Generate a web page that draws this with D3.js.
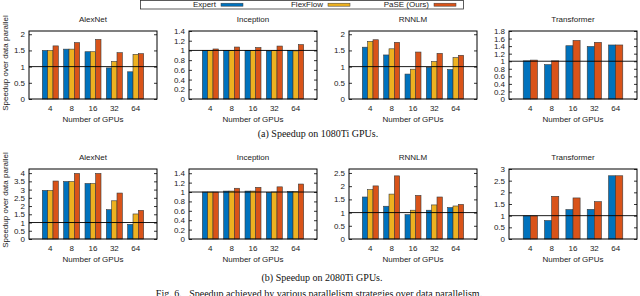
<!DOCTYPE html>
<html>
<head>
<meta charset="utf-8">
<script src="https://cdn.jsdelivr.net/npm/d3@7"></script>
<style>
  body { margin: 0; background: #fff; }
  svg text { font-family: "Liberation Sans", Arial, sans-serif; fill: #222; }
  .cap { font-family: "Liberation Serif", "Times New Roman", serif; fill: #111; }
</style>
</head>
<body>
<div id="chart-area"></div>
<script>
// SVG Size
var width = 640,
	height = 296;

// categories and series
var gpus = ["4", "8", "16", "32", "64"];
var seriesNames = ["Expert", "FlexFlow", "PaSE (Ours)"];
var seriesColors = ["#0072bd", "#edb120", "#d95319"];

// speedups, 1080Ti  (rows: Expert, FlexFlow, PaSE)
var alexnet1080 = [[1.50, 1.54, 1.46, 0.96, 0.84], [1.50, 1.54, 1.46, 1.16, 1.38], [1.64, 1.74, 1.84, 1.43, 1.40]];
var inception1080 = [[1.00, 1.00, 1.00, 0.99, 1.00], [1.00, 1.00, 1.00, 1.00, 0.99], [1.03, 1.07, 1.06, 1.09, 1.12]];
var rnnlm1080 = [[1.60, 1.36, 0.77, 0.98, 0.91], [1.78, 1.55, 0.92, 1.16, 1.28], [1.83, 1.75, 1.45, 1.41, 1.35]];
var transformer1080 = [[1.01, 0.91, 1.41, 1.39, 1.43], [1.03, 1.01, 1.55, 1.50, 1.43]];

// speedups, 2080Ti
var alexnet2080 = [[2.95, 3.49, 3.37, 1.78, 0.89], [2.95, 3.49, 3.37, 2.32, 1.52], [3.52, 3.98, 3.98, 2.79, 1.74]];
var inception2080 = [[1.00, 1.02, 1.02, 0.99, 1.01], [1.00, 1.02, 1.02, 1.00, 1.01], [1.00, 1.08, 1.10, 1.11, 1.17]];
var rnnlm2080 = [[1.59, 1.24, 0.92, 1.09, 1.19], [1.87, 1.70, 1.09, 1.29, 1.25], [2.01, 2.39, 1.65, 1.59, 1.31]];
var transformer2080 = [[0.99, 0.79, 1.26, 1.27, 2.71], [0.99, 1.83, 1.76, 1.60, 2.71]];

// y tick labels
var ticksHalf = [0, 0.5, 1, 1.5, 2];
var ticksFifth14 = [0, 0.2, 0.4, 0.6, 0.8, 1, 1.2, 1.4];
var ticksFifth18 = [0, 0.2, 0.4, 0.6, 0.8, 1, 1.2, 1.4, 1.6, 1.8];
var ticksHalf4 = [0, 0.5, 1, 1.5, 2, 2.5, 3, 3.5, 4];
var ticksHalf25 = [0, 0.5, 1, 1.5, 2, 2.5];
var ticksHalf3 = [0, 0.5, 1, 1.5, 2, 2.5, 3];

var panels = [
	{ row: 0, col: 0, title: "AlexNet", values: alexnet1080, keys: [0, 1, 2], ymax: 2.1, ticks: ticksHalf },
	{ row: 0, col: 1, title: "Inception", values: inception1080, keys: [0, 1, 2], ymax: 1.4, ticks: ticksFifth14 },
	{ row: 0, col: 2, title: "RNNLM", values: rnnlm1080, keys: [0, 1, 2], ymax: 2.1, ticks: ticksHalf },
	{ row: 0, col: 3, title: "Transformer", values: transformer1080, keys: [0, 2], ymax: 1.8, ticks: ticksFifth18 },
	{ row: 1, col: 0, title: "AlexNet", values: alexnet2080, keys: [0, 1, 2], ymax: 4.25, ticks: ticksHalf4 },
	{ row: 1, col: 1, title: "Inception", values: inception2080, keys: [0, 1, 2], ymax: 1.49, ticks: ticksFifth14 },
	{ row: 1, col: 2, title: "RNNLM", values: rnnlm2080, keys: [0, 1, 2], ymax: 2.65, ticks: ticksHalf25 },
	{ row: 1, col: 3, title: "Transformer", values: transformer2080, keys: [0, 2], ymax: 3, ticks: ticksHalf3 }
];

// frame geometry
var frameLeft = [29, 189, 349, 509];
var frameW = 128;
var frameTop = [31, 169];
var frameH = [68, 70];

var svg = d3.select("#chart-area")
		.append("svg")
		.attr("width", width)
		.attr("height", height);

panels.forEach(function(p){
	var x0 = frameLeft[p.col], y0 = frameTop[p.row], h = frameH[p.row];
	var k = p.keys.length;
	var inner = 1 / (k + 1);

	var g = svg.append("g").attr("transform", "translate(" + x0 + "," + y0 + ")");

	var xScale = d3.scaleBand()
			.domain(gpus)
			.range([0, frameW])
			.paddingInner(inner)
			.paddingOuter((1 + inner) / 2);

	var xSeries = d3.scaleBand()
			.domain(p.keys)
			.range([0, xScale.bandwidth()]);

	var yScale = d3.scaleLinear()
			.domain([0, p.ymax])
			.range([h, 0]);

	// bars
	p.keys.forEach(function(key, i){
		g.append("g").selectAll("rect")
			.data(p.values[i])
			.enter()
			.append("rect")
			.attr("x", function(d, j){ return xScale(gpus[j]) + xSeries(key); })
			.attr("y", function(d){ return yScale(d); })
			.attr("width", xSeries.bandwidth())
			.attr("height", function(d){ return h - yScale(d); })
			.attr("fill", seriesColors[key])
			.attr("stroke", "#3a3a3a")
			.attr("stroke-width", 0.6);
	});

	// reference line at 1
	g.append("line")
		.attr("x1", 0).attr("x2", frameW)
		.attr("y1", yScale(1)).attr("y2", yScale(1))
		.attr("stroke", "#000")
		.attr("stroke-width", 0.9);

	// axes
	var yAxis = d3.axisLeft(yScale).tickValues(p.ticks).tickSize(-3).tickPadding(4)
			.tickFormat(function(d){ return String(d); });
	var yAxisR = d3.axisRight(yScale).tickValues(p.ticks).tickSize(-3).tickFormat("");
	var xAxis = d3.axisBottom(xScale).tickSize(0).tickPadding(6);

	var ya = g.append("g").attr("class", "axis y-axis").call(yAxis);
	g.append("g").attr("transform", "translate(" + frameW + ",0)").call(yAxisR);
	var xa = g.append("g").attr("class", "axis x-axis")
			.attr("transform", "translate(0," + h + ")")
			.call(xAxis);

	[ya, xa].forEach(function(a){
		a.selectAll("text").style("font-size", "8px");
		a.select(".domain").remove();
	});
	g.selectAll(".tick line").attr("stroke", "#000").attr("stroke-width", 0.8);
	g.selectAll(".domain").remove();

	// frame
	g.append("rect")
		.attr("width", frameW).attr("height", h)
		.attr("fill", "none")
		.attr("stroke", "#000")
		.attr("stroke-width", 1);

	g.append("text").text(p.title)
		.attr("x", frameW / 2).attr("y", -12)
		.attr("text-anchor", "middle")
		.attr("dominant-baseline", "central")
		.style("font-size", "8px");

	g.append("text").text("Number of GPUs")
		.attr("x", frameW / 2).attr("y", h + 20)
		.attr("text-anchor", "middle")
		.attr("dominant-baseline", "central")
		.style("font-size", "8px");
});

// y axis names
[frameTop[0] + frameH[0] / 2 - 2, frameTop[1] + frameH[1] / 2 - 4].forEach(function(cy){
	svg.append("text").text("Speedup over data parallel")
		.attr("transform", "translate(5," + cy + ") rotate(-90)")
		.attr("text-anchor", "middle")
		.attr("dominant-baseline", "central")
		.style("font-size", "8px");
});

// legend
var legend = svg.append("g");
legend.append("rect")
	.attr("x", 140.5).attr("y", 0.5)
	.attr("width", 323).attr("height", 8.5)
	.attr("fill", "#fff")
	.attr("stroke", "#333")
	.attr("stroke-width", 0.8);
var legendTextX = [216, 323, 429];
seriesNames.forEach(function(name, i){
	legend.append("text").text(name)
		.attr("x", legendTextX[i]).attr("y", 4.8)
		.attr("text-anchor", "end")
		.attr("dominant-baseline", "central")
		.style("font-size", "8px");
	legend.append("rect")
		.attr("x", legendTextX[i] + 5).attr("y", 3.2)
		.attr("width", 22).attr("height", 3)
		.attr("fill", seriesColors[i])
		.attr("stroke", "#3a3a3a")
		.attr("stroke-width", 0.5);
});

// captions
svg.append("text").attr("class", "cap").text("(a) Speedup on 1080Ti GPUs.")
	.attr("x", 318).attr("y", 133)
	.attr("text-anchor", "middle").attr("dominant-baseline", "central")
	.style("font-size", "10px");
svg.append("text").attr("class", "cap").text("(b) Speedup on 2080Ti GPUs.")
	.attr("x", 322).attr("y", 277)
	.attr("text-anchor", "middle").attr("dominant-baseline", "central")
	.style("font-size", "10px");
svg.append("text").attr("class", "cap")
	.attr("x", 319).attr("y", 293.5)
	.attr("text-anchor", "middle").attr("dominant-baseline", "central")
	.attr("xml:space", "preserve")
	.style("font-size", "10px")
	.text("Fig. 6.   Speedup achieved by various parallelism strategies over data parallelism.");
</script>
</body>
</html>
